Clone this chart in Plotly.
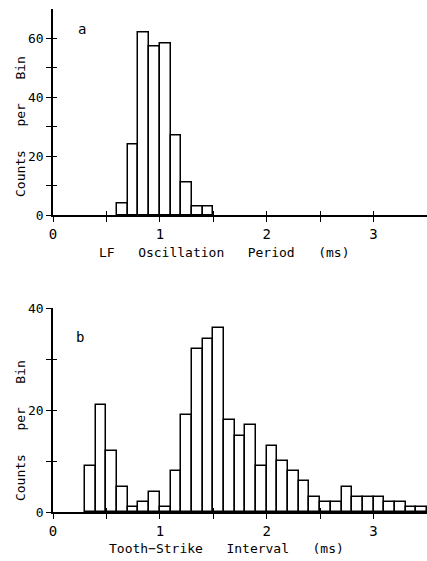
import plotly.graph_objects as go

# Panel a: LF oscillation period histogram (bin width 0.1 ms)
a_bin_starts = [0.6, 0.7, 0.8, 0.9, 1.0, 1.1, 1.2, 1.3, 1.4]
a_counts = [4, 24, 62, 57, 58, 27, 11, 3, 3]

# Panel b: tooth-strike interval histogram (bin width 0.1 ms)
b_bin_starts = [0.3, 0.4, 0.5, 0.6, 0.7, 0.8, 0.9, 1.0, 1.1, 1.2, 1.3, 1.4, 1.5, 1.6,
                1.7, 1.8, 1.9, 2.0, 2.1, 2.2, 2.3, 2.4, 2.5, 2.6, 2.7, 2.8, 2.9, 3.0,
                3.1, 3.2, 3.3, 3.4]
b_counts = [9, 21, 12, 5, 1, 2, 4, 1, 8, 19, 32, 34, 36, 18,
            15, 17, 9, 13, 10, 8, 6, 3, 2, 2, 5, 3, 3, 3,
            2, 2, 1, 1]
bin_width = 0.1

x_tickvals = [0, 0.5, 1, 1.5, 2, 2.5, 3]
x_ticktext = ["0", "", "1", "", "2", "", "3"]
a_y_tickvals = [0, 10, 20, 30, 40, 50, 60]
a_y_ticktext = ["0", "", "20", "", "40", "", "60"]
b_y_tickvals = [0, 10, 20, 30, 40]
b_y_ticktext = ["0", "", "20", "", "40"]

FONT = "DejaVu Sans Mono"
SP = "\u00a0\u00a0\u00a0"
a_xtitle = "LF" + SP + "Oscillation" + SP + "Period" + SP + "(ms)"
b_xtitle = "Tooth\u2212Strike" + SP + "Interval" + SP + "(ms)"
ytitle = "Counts" + SP + "per" + SP + "Bin"

fig = go.Figure()
bar_style = dict(marker=dict(color="white", line=dict(color="black", width=1.5)),
                 width=bin_width, offset=0, showlegend=False, hoverinfo="skip")
fig.add_trace(go.Bar(x=a_bin_starts, y=a_counts, xaxis="x", yaxis="y", **bar_style))
fig.add_trace(go.Bar(x=b_bin_starts, y=b_counts, xaxis="x2", yaxis="y2", **bar_style))
# dummy traces to activate overlay axes (inside tick halves)
fig.add_trace(go.Scatter(x=[], y=[], xaxis="x3", yaxis="y3", showlegend=False))
fig.add_trace(go.Scatter(x=[], y=[], xaxis="x4", yaxis="y4", showlegend=False))

dom_a = [(561 - 215) / 561, (561 - 8.5) / 561]
dom_b = [(561 - 512) / 561, (561 - 308) / 561]

common_x = dict(range=[0, 3.5], showgrid=False, zeroline=False, showline=True,
                linecolor="black", linewidth=1.5, tickmode="array", tickvals=x_tickvals,
                ticks="outside", ticklen=5, tickwidth=1.4, tickcolor="black",
                automargin=False,
                tickfont=dict(family=FONT, size=14, color="black"))
common_y = dict(showgrid=False, zeroline=False, showline=True, linecolor="black",
                linewidth=1.5, tickmode="array", ticks="outside", ticklen=5,
                tickwidth=1.4, tickcolor="black", automargin=False,
                tickfont=dict(family=FONT, size=13, color="black"))
ov = dict(showgrid=False, zeroline=False, showline=False, tickmode="array", ticks="inside",
          ticklen=4, tickwidth=1.4, tickcolor="black", showticklabels=False, automargin=False)
title_font = dict(family=FONT, size=13, color="black")
lab_font = dict(family=FONT, size=14, color="black")

fig.update_layout(
    width=427, height=561,
    margin=dict(l=53, r=0, t=0, b=0, autoexpand=False),
    paper_bgcolor="white", plot_bgcolor="white",
    bargap=0,
    xaxis=dict(common_x, domain=[0, 1], anchor="y", ticktext=x_ticktext),
    yaxis=dict(common_y, domain=dom_a, anchor="x", range=[0, 70],
               tickvals=a_y_tickvals, ticktext=a_y_ticktext),
    xaxis2=dict(common_x, domain=[0, 1], anchor="y2", ticktext=x_ticktext),
    yaxis2=dict(common_y, domain=dom_b, anchor="x2", range=[0, 40],
                tickvals=b_y_tickvals, ticktext=b_y_ticktext),
    xaxis3=dict(ov, overlaying="x", anchor="y3", range=[0, 3.5], tickvals=x_tickvals[1:]),
    yaxis3=dict(ov, overlaying="y", anchor="x3", range=[0, 70], tickvals=a_y_tickvals),
    xaxis4=dict(ov, overlaying="x2", anchor="y4", range=[0, 3.5], tickvals=x_tickvals[1:]),
    yaxis4=dict(ov, overlaying="y2", anchor="x4", range=[0, 40], tickvals=b_y_tickvals),
    annotations=[
        dict(text="a", x=0.27, y=63, xref="x", yref="y", showarrow=False, font=lab_font),
        dict(text="b", x=0.25, y=34.3, xref="x2", yref="y2", showarrow=False, font=lab_font),
        dict(text=a_xtitle, x=0.457, y=0.5508, xref="paper", yref="paper",
             showarrow=False, font=title_font, xanchor="center", yanchor="middle"),
        dict(text=b_xtitle, x=0.4626, y=0.0214, xref="paper", yref="paper",
             showarrow=False, font=title_font, xanchor="center", yanchor="middle"),
        dict(text=ytitle, x=-0.0882, y=0.7736, xref="paper", yref="paper", textangle=-90,
             showarrow=False, font=title_font, xanchor="center", yanchor="middle"),
        dict(text=ytitle, x=-0.0882, y=0.2317, xref="paper", yref="paper", textangle=-90,
             showarrow=False, font=title_font, xanchor="center", yanchor="middle"),
    ],
)

fig.write_html("out.html", config={"displayModeBar": False},
               post_script="document.body.style.margin='0px';")
